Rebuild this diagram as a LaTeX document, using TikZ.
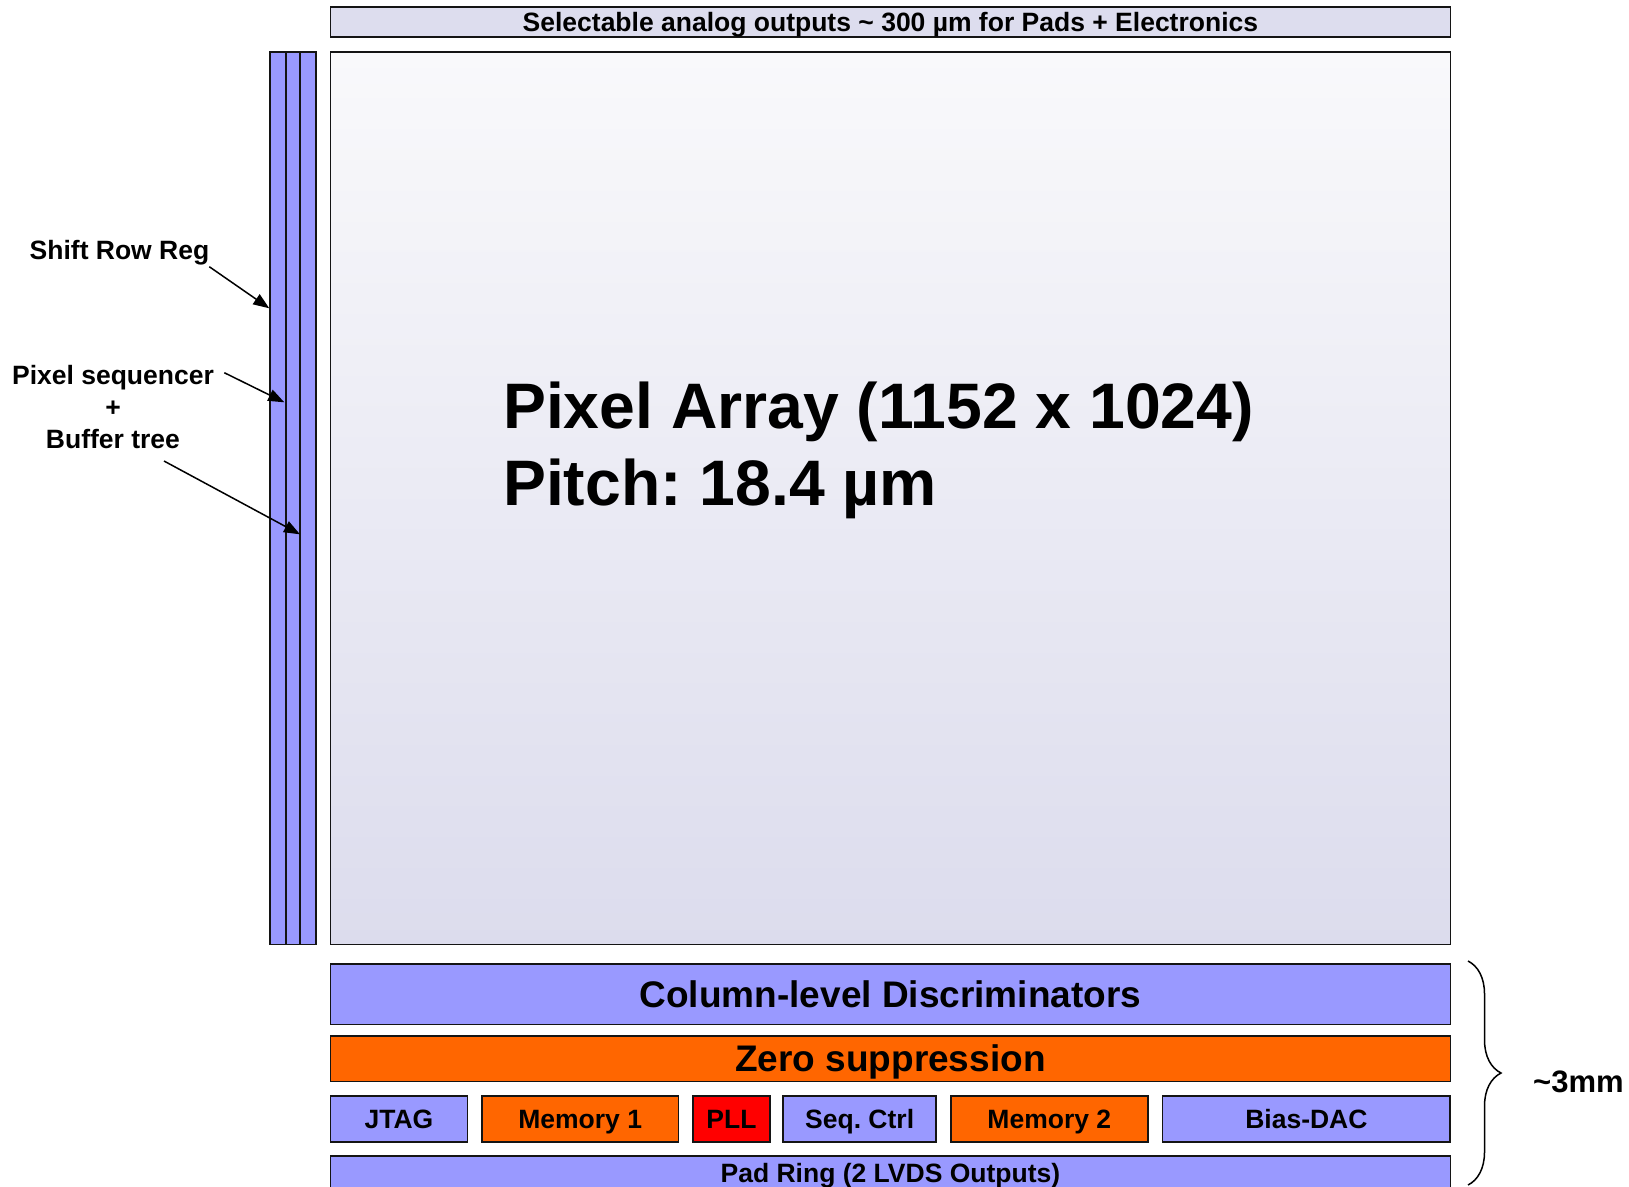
\documentclass[tikz,border=0pt]{standalone}
\usepackage{fontspec}
\setmainfont{Liberation Sans}
\frenchspacing
\usetikzlibrary{arrows.meta,decorations.pathreplacing}
\definecolor{lav}{RGB}{153,153,255}
\definecolor{org}{RGB}{255,102,0}
\definecolor{pllred}{RGB}{255,0,0}
\definecolor{topfill}{RGB}{221,221,238}
\definecolor{patop}{RGB}{249,249,251}
\definecolor{pabot}{RGB}{220,220,237}
\definecolor{edge}{RGB}{20,20,20}
\tikzset{
  blk/.style={draw=edge, line width=1.8pt, inner sep=0pt, outer sep=0pt, anchor=north west, font=\bfseries},
  small/.style={font=\fontsize{26.5}{32}\selectfont\bfseries, text height=19pt, text depth=0pt},
  big/.style={font=\fontsize{37}{44}\selectfont\bfseries, text height=26.5pt, text depth=0pt},
  lbl/.style={inner sep=0pt, font=\fontsize{26.5}{32.3}\selectfont\bfseries},
  arr/.style={line width=1.5pt, -{Triangle[length=16pt,width=12pt]}},
}
\begin{document}
\begin{tikzpicture}[x=1pt,y=-1pt]
\clip (0,0) rectangle (1629,1186);
\fill[white] (0,0) rectangle (1629,1186);
% top strip
\node[blk, fill=topfill, minimum width=1120pt, minimum height=30pt, small] (top) at (330.4,7.3) {Selectable analog outputs \textasciitilde{} 300 µm for Pads + Electronics};
% pixel array
\node[blk, top color=patop, bottom color=pabot, minimum width=1120pt, minimum height=892.5pt] (pa) at (330.4,51.9) {};
\node[anchor=base west, inner sep=0pt, font=\fontsize{64.3}{77}\selectfont\bfseries] (pa1) at (503,428) {Pixel Array (1152 x 1024)};
\node[anchor=base west, inner sep=0pt, font=\fontsize{64.3}{77}\selectfont\bfseries] (pa2) at (503,505) {Pitch: 18.4 µm};
% side bars
\node[blk, fill=lav, minimum width=15.7pt, minimum height=892.5pt] (bar1) at (270,51.9) {};
\node[blk, fill=lav, minimum width=14.5pt, minimum height=892.5pt] (bar2) at (285.7,51.9) {};
\node[blk, fill=lav, minimum width=15.6pt, minimum height=892.5pt] (bar3) at (300.2,51.9) {};
% bottom blocks
\node[blk, fill=lav, minimum width=1120pt, minimum height=60.4pt, big] (col) at (330.4,964) {Column-level Discriminators};
\node[blk, fill=org, minimum width=1120pt, minimum height=45.7pt, big] (zero) at (330.4,1035.8) {Zero suppression};
\node[blk, fill=lav, minimum width=137.1pt, minimum height=45.8pt, small] (jtag) at (330.4,1096) {JTAG};
\node[blk, fill=org, minimum width=196.4pt, minimum height=45.8pt, small] (mem1) at (482,1096) {Memory 1};
\node[blk, fill=pllred, minimum width=76.8pt, minimum height=45.8pt, small] (pll) at (693,1096) {PLL};
\node[blk, fill=lav, minimum width=152.7pt, minimum height=45.8pt, small] (seq) at (783.3,1096) {Seq. Ctrl};
\node[blk, fill=org, minimum width=197.4pt, minimum height=45.8pt, small] (mem2) at (950.6,1096) {Memory 2};
\node[blk, fill=lav, minimum width=287.8pt, minimum height=45.8pt, small] (bias) at (1162.5,1096) {Bias-DAC};
\node[blk, fill=lav, minimum width=1120pt, minimum height=33.4pt, small] (pad) at (330.4,1156.3) {Pad Ring (2 LVDS Outputs)};
% brace
\coordinate (brT) at (1468,961);
\coordinate (brB) at (1468,1185);
\draw[decorate, decoration={brace, amplitude=33pt}, line width=1.5pt] (brT) -- (brB);
\node[anchor=west, inner sep=0pt, font=\fontsize{31}{37}\selectfont\bfseries] (mm) at (1533,1081.5) {\textasciitilde 3mm};
% left labels
\node[lbl] (srr) at (119.5,253) {Shift Row Reg};
\node[lbl, align=center] (pseq) at (113,407) {Pixel sequencer\\+\\Buffer tree};
\coordinate (a1s) at (209.3,266.7);
\coordinate (a1e) at (269.3,308.3);
\coordinate (a2s) at (224.3,372.7);
\coordinate (a2e) at (284.3,402.3);
\coordinate (a3s) at (164,461);
\coordinate (a3e) at (300,534.3);
\draw[arr] (a1s) -- (a1e);
\draw[arr] (a2s) -- (a2e);
\draw[arr] (a3s) -- (a3e);
\end{tikzpicture}
\end{document}
